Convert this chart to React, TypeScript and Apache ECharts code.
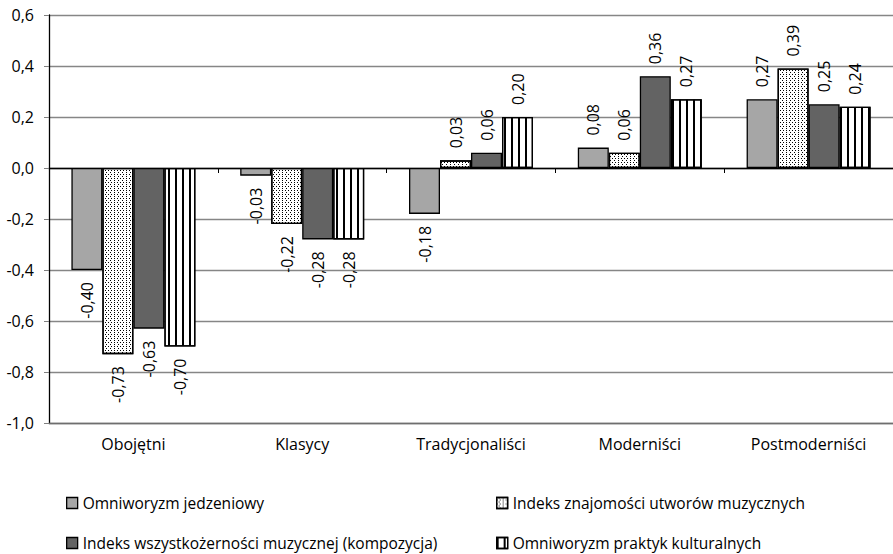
import React, { useEffect, useRef } from "react";
import * as echarts from "echarts";

const categories = ["Obojętni", "Klasycy", "Tradycjonaliści", "Moderniści", "Postmoderniści"];
const seriesNames = [
  "Omniworyzm jedzeniowy",
  "Indeks znajomości utworów muzycznych",
  "Indeks wszystkożerności muzycznej (kompozycja)",
  "Omniworyzm praktyk kulturalnych",
];
const omniJedzenie = [-0.4, -0.03, -0.18, 0.08, 0.27];
const indeksZnajomosci = [-0.73, -0.22, 0.03, 0.06, 0.39];
const indeksWszystko = [-0.63, -0.28, 0.06, 0.36, 0.25];
const omniPraktyk = [-0.7, -0.28, 0.2, 0.27, 0.24];
const yMin = -1.0;
const yMax = 0.6;
const yStep = 0.2;

const FONT = "Open Sans";

const fmt2 = (v: number) => v.toFixed(2).replace(".", ",");
const fmt1 = (v: number) => v.toFixed(1).replace(".", ",");

const dotsDecal = {
  symbol: "rect",
  symbolSize: 1,
  symbolKeepAspect: false,
  color: "#000",
  backgroundColor: "#fff",
  dashArrayX: [
    [1, 2],
    [0, 1.5, 1, 0.5],
  ],
  dashArrayY: [1, 1],
  rotation: 0,
};
const stripesDecal = {
  symbol: "rect",
  symbolSize: 1,
  symbolKeepAspect: false,
  color: "#000",
  backgroundColor: "#fff",
  dashArrayX: [[1.2, 4.8]],
  dashArrayY: [10, 0],
  rotation: 0,
};

export default function App() {
  const ref = useRef<HTMLDivElement>(null);
  useEffect(() => {
    if (!ref.current) return;
    const chart = echarts.init(ref.current, null, { renderer: "svg" });

    const mkData = (vals: number[]) =>
      vals.map((v) => ({
        value: v,
        label: {
          position: v >= 0 ? "top" : "bottom",
          align: v >= 0 ? "left" : "right",
          verticalAlign: "middle",
        },
      }));

    const styles = [
      { color: "#a6a6a6" },
      { color: "#ffffff", decal: dotsDecal },
      { color: "#636363" },
      { color: "#ffffff", decal: stripesDecal },
    ];
    const valuesList = [omniJedzenie, indeksZnajomosci, indeksWszystko, omniPraktyk];

    const series = seriesNames.map((name, i) => ({
      name,
      type: "bar",
      xAxisIndex: 0,
      barWidth: 31,
      barGap: "0%",
      itemStyle: {
        ...styles[i],
        borderColor: "#000",
        borderWidth: 1.3,
      },
      label: {
        show: true,
        rotate: 90,
        distance: 12,
        color: "#000",
        fontSize: 16,
        fontFamily: FONT,
        formatter: (p: any) => fmt2(p.value),
      },
      data: mkData(valuesList[i]),
    }));

    const legendPos = [
      { left: 66, top: 495 },
      { left: 496, top: 495 },
      { left: 66, top: 535 },
      { left: 496, top: 535 },
    ];
    const legend = seriesNames.map((name, i) => ({
      data: [{ name, icon: "rect" }],
      left: legendPos[i].left,
      top: legendPos[i].top,
      padding: 0,
      itemWidth: 11,
      itemHeight: 11,
      selectedMode: false,
      textStyle: { fontSize: 15.5, fontFamily: FONT, color: "#000" },
      itemStyle: { borderColor: "#000", borderWidth: 1.3 },
    }));

    chart.setOption({
      animation: false,
      textStyle: { fontFamily: FONT },
      grid: { left: 49, right: -8, top: 15, bottom: 131, containLabel: false },
      legend,
      xAxis: [
        {
          type: "category",
          data: categories,
          position: "bottom",
          axisLine: { show: true, onZero: false, lineStyle: { color: "#6e6e6e", width: 1.3 } },
          axisTick: { show: false },
          axisLabel: { margin: 13, fontSize: 16, fontFamily: FONT, color: "#000" },
        },
        {
          type: "category",
          data: categories,
          position: "bottom",
          axisLine: { show: true, onZero: true, lineStyle: { color: "#000", width: 1.3 } },
          axisTick: { show: true, length: 5, lineStyle: { color: "#000", width: 1 } },
          axisLabel: { show: false },
        },
      ],
      yAxis: {
        type: "value",
        min: yMin,
        max: yMax,
        interval: yStep,
        axisLine: { show: true, lineStyle: { color: "#000", width: 1.3 } },
        axisTick: { show: true, length: 5, lineStyle: { color: "#808080" } },
        axisLabel: {
          margin: 15,
          fontSize: 16,
          fontFamily: FONT,
          color: "#000",
          formatter: (v: number) => fmt1(v),
        },
        splitLine: { show: true, lineStyle: { color: "#868686", width: 1.3 } },
      },
      series,
    });
    return () => chart.dispose();
  }, []);
  return (
    <div
      ref={ref}
      style={{ position: "fixed", left: 0, top: 0, width: 893, height: 554, background: "#fff" }}
    />
  );
}
